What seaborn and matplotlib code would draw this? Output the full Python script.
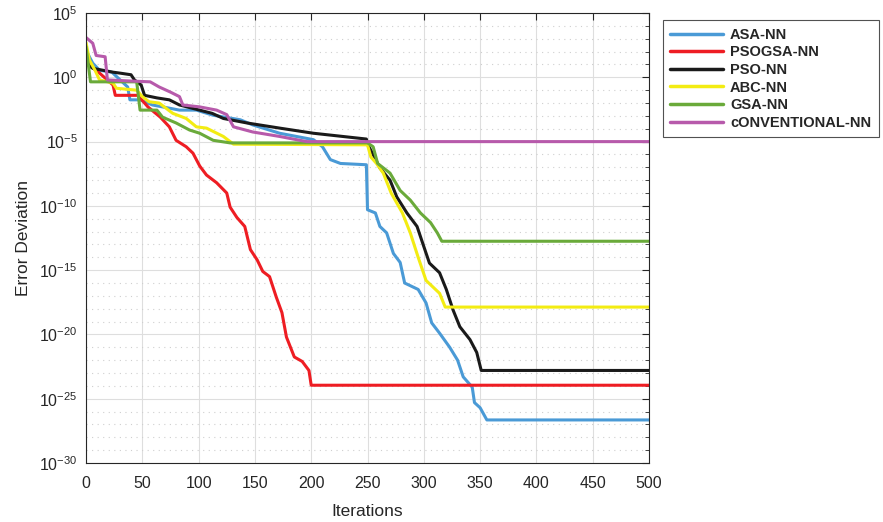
import numpy as np
import pandas as pd
import matplotlib
matplotlib.use('Agg')
import matplotlib.pyplot as plt
import seaborn as sns
from matplotlib.ticker import FixedLocator, FuncFormatter, NullFormatter

# Curves: iteration and log10(error) at the breakpoints
asa_it = [0, 6, 12, 23, 37, 39, 48, 59, 83, 98, 113, 137, 148, 172, 202, 210, 217, 226, 249,
          250, 257, 261, 267, 273, 279, 283, 295, 302, 307, 314, 323, 330, 335, 343, 345, 350, 356, 500]
asa_lg = [2.1, 1.1, 0.55, 0.4, -0.75, -1.75, -1.75, -2.15, -2.55, -2.55, -2.95, -3.3, -3.7, -4.35, -4.85, -5.4, -6.4, -6.7, -6.8,
          -10.3, -10.55, -11.6, -12.1, -13.7, -14.4, -16.0, -16.5, -17.55, -19.1, -19.9, -21.0, -22.0, -23.3, -24.1, -25.3, -25.7, -26.65, -26.65]

psogsa_it = [0, 5, 12, 24, 26, 46, 55, 66, 74, 80, 89, 95, 101, 107, 116, 125, 128, 134, 141,
             146, 152, 157, 163, 169, 174, 178, 185, 192, 198, 200, 500]
psogsa_lg = [1.6, 0.8, 0.33, -0.6, -1.4, -1.4, -2.3, -3.1, -3.85, -4.9, -5.4, -5.9, -6.9, -7.6, -8.2, -9.0, -10.1, -10.9, -11.6,
             -13.4, -14.2, -15.1, -15.5, -17.1, -18.3, -20.2, -21.75, -22.1, -22.8, -23.95, -23.95]

pso_it = [0, 6, 24, 30, 40, 43, 49, 52, 63, 74, 83, 112, 122, 143, 172, 202, 249, 250, 255, 261, 270,
          276, 285, 294, 299, 305, 314, 320, 326, 332, 341, 347, 351, 500]
pso_lg = [1.1, 0.7, 0.4, 0.33, 0.2, -0.2, -0.6, -1.4, -1.6, -1.75, -2.15, -2.8, -3.2, -3.55, -3.95, -4.35, -4.8, -5.2, -6.0, -7.05, -8.0,
          -9.3, -10.55, -11.6, -12.9, -14.45, -15.2, -16.5, -18.1, -19.4, -20.4, -21.4, -22.8, -22.8]

abc_it = [0, 3, 8, 12, 24, 27, 45, 50, 56, 65, 77, 89, 98, 107, 122, 131, 250, 253, 258, 264, 271,
          281, 288, 295, 302, 314, 319, 500]
abc_lg = [2.7, 1.35, 0.55, -0.2, -0.45, -0.85, -1.0, -1.5, -1.9, -2.0, -2.8, -3.2, -3.85, -3.95, -4.6, -5.2, -5.25, -6.2, -6.7, -7.45, -9.0,
          -10.55, -12.1, -14.0, -15.8, -16.8, -17.87, -17.87]

gsa_it = [0, 4, 45, 48, 63, 68, 80, 92, 101, 113, 128, 250, 255, 259, 270, 279, 288, 297, 306, 312, 316, 500]
gsa_lg = [2.4, -0.35, -0.35, -2.55, -2.55, -3.1, -3.55, -4.1, -4.35, -4.9, -5.1, -5.1, -5.4, -6.7, -7.45, -8.8, -9.55, -10.55, -11.3, -12.1, -12.75, -12.75]

conv_it = [0, 6, 9, 17, 19, 43, 57, 65, 75, 83, 86, 101, 116, 125, 131, 148, 172, 196, 500]
conv_lg = [3.1, 2.65, 1.7, 1.6, -0.2, -0.3, -0.35, -0.75, -1.15, -1.5, -2.15, -2.3, -2.55, -2.9, -3.85, -4.25, -4.6, -5.0, -5.0]

names = ['ASA-NN', 'PSOGSA-NN', 'PSO-NN', 'ABC-NN', 'GSA-NN', 'cONVENTIONAL-NN']
colors = ['#4a9ad6', '#ee1d23', '#1a1a1a', '#f3ec12', '#6aaa3a', '#b75aab']
curves = [(asa_it, asa_lg), (psogsa_it, psogsa_lg), (pso_it, pso_lg),
          (abc_it, abc_lg), (gsa_it, gsa_lg), (conv_it, conv_lg)]

frames = []
for name, (it, lg) in zip(names, curves):
    frames.append(pd.DataFrame({'Iterations': it, 'Error': 10.0 ** np.array(lg), 'Method': name}))
df = pd.concat(frames, ignore_index=True)

sns.set_style('white')
plt.rcParams['font.family'] = ['Liberation Sans', 'DejaVu Sans']
plt.rcParams['mathtext.default'] = 'regular'

fig = plt.figure(figsize=(8.83, 5.22), dpi=100)
ax = fig.add_axes([0.0974, 0.113, 0.6376, 0.862])

sns.lineplot(data=df, x='Iterations', y='Error', hue='Method', hue_order=names,
             palette=colors, estimator=None, sort=False, linewidth=2.2, ax=ax)
ax.set_yscale('log')
ax.set_xlim(0, 500)
ax.set_ylim(1e-30, 1e5)
ax.set_xticks(np.arange(0, 501, 50))
ax.yaxis.set_major_locator(FixedLocator([10.0 ** k for k in range(-30, 6, 5)]))
ax.yaxis.set_minor_locator(FixedLocator([10.0 ** k for k in range(-30, 6) if k % 5 != 0]))
ax.yaxis.set_major_formatter(FuncFormatter(lambda v, p: '$10^{%d}$' % round(np.log10(v))))
ax.yaxis.set_minor_formatter(NullFormatter())

ax.grid(True, which='major', color='#dedede', linewidth=0.8, linestyle='-')
ax.grid(True, which='minor', axis='y', color='#cfcfcf', linewidth=0.8, linestyle=(0, (1, 4)))
ax.set_axisbelow(True)

for s in ax.spines.values():
    s.set_color('#262626')
    s.set_linewidth(0.8)
ax.tick_params(which='both', direction='in', top=True, right=True, colors='#262626',
               labelcolor='#262626', labelsize=11.5)
ax.tick_params(which='major', length=5)
ax.tick_params(which='minor', length=3)
ax.tick_params(axis='x', pad=9)
ax.tick_params(axis='y', pad=6)

ax.set_xlabel('Iterations', fontsize=12.5, color='#262626', labelpad=10)
ax.set_ylabel('Error Deviation', fontsize=12.5, color='#262626', labelpad=6)

leg = ax.legend(loc='upper left', bbox_to_anchor=(1.012, 1.0), frameon=True, fancybox=False,
                edgecolor='#262626', handlelength=3.6, handletextpad=0.5,
                borderpad=0.5, labelspacing=0.25, prop={'weight': 'bold', 'size': 10.5})
leg.get_frame().set_linewidth(0.8)
for line in leg.get_lines():
    line.set_linewidth(2.5)

fig.savefig('out.png', dpi=100)
